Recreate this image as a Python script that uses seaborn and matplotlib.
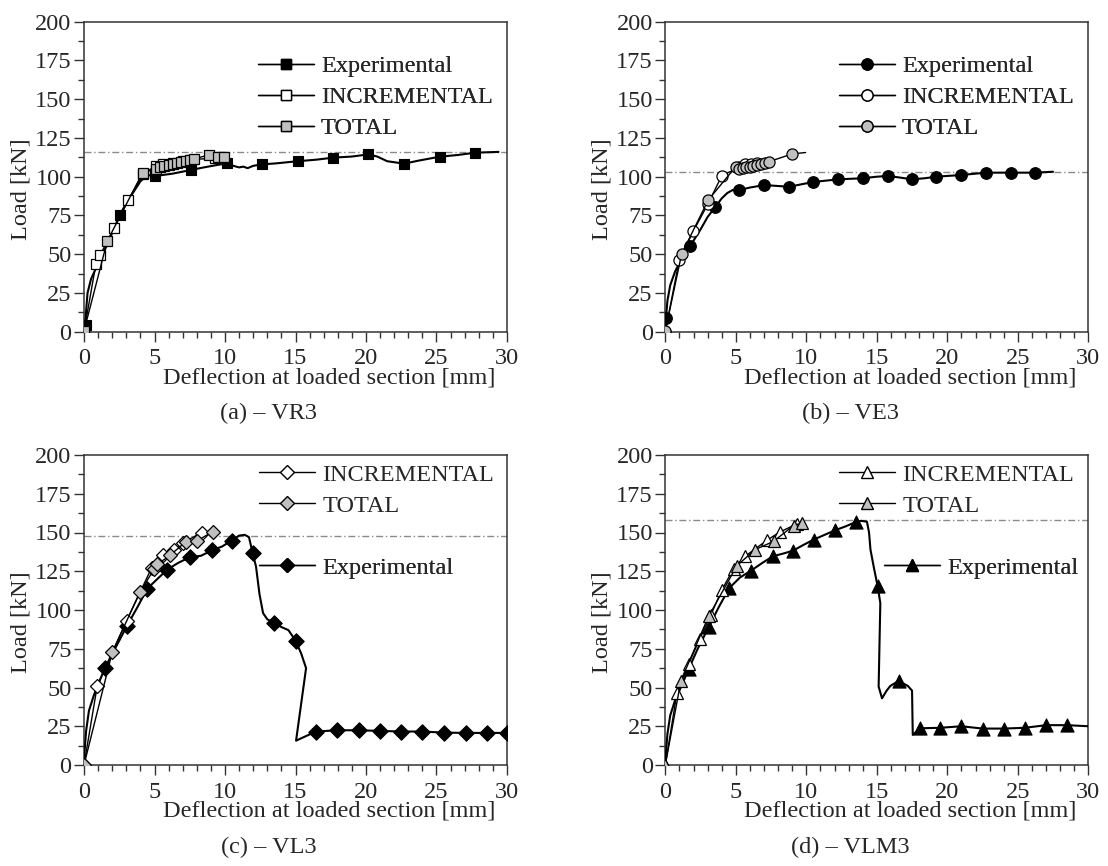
import numpy as np
import matplotlib
matplotlib.use("Agg")
import matplotlib.pyplot as plt
import seaborn as sns
from matplotlib.lines import Line2D
from matplotlib.ticker import MultipleLocator

# ---------------- data ----------------
# (a) VR3
A_EXP_X = [0, 0.05, 0.12, 0.25, 0.5, 0.8, 1.2, 1.7, 2.1, 2.55, 3.0, 3.5, 4.0, 4.5, 5.05, 5.5, 6.3,
           7.57, 8.5, 9.4, 10.12, 10.6, 11.0, 11.3, 11.6, 12.0, 12.62, 13.5, 15.17, 16.5, 17.67,
           19.0, 20.17, 20.8, 21.5, 22.7, 23.8, 25.24, 26.5, 27.76, 29.4]
A_EXP_Y = [0, 4, 10, 25, 34, 40, 48, 57, 66, 75.5, 83, 90, 97, 101, 100.5, 101, 102,
           104.3, 106, 107.5, 108.6, 107, 106, 106.5, 105.5, 107, 108, 108.5, 110, 111, 112.3,
           113, 114.4, 113, 110, 108.4, 110.5, 112.9, 114, 115.5, 116]
A_EXP_MX = [0.12, 2.55, 5.05, 7.57, 10.12, 12.62, 15.17, 17.67, 20.17, 22.7, 25.24, 27.76]
A_EXP_MY = [4.3, 75.5, 100.5, 104.3, 108.6, 108, 110.1, 112.3, 114.4, 108.4, 112.9, 115.5]
A_INC_X = [0, 0.85, 1.15, 2.15, 3.15, 4.2, 5.1, 5.6, 6.3, 7.0, 7.6, 9.3, 9.7]
A_INC_Y = [0, 44, 49.5, 67, 85, 102, 107, 108, 109, 110, 111, 112, 112.5]
A_TOT_X = [0, 1.65, 4.15, 5.1, 5.4, 5.7, 6.0, 6.3, 6.6, 6.9, 7.2, 7.5, 7.8, 8.85, 9.5, 9.9]
A_TOT_Y = [0.5, 58.5, 102.5, 105, 106, 107, 107.5, 108, 109, 109.5, 110, 110.5, 111.5, 114, 112.5, 113]
A_PEAK = 116

# (b) VE3
B_EXP_X = [0, 0.05, 0.15, 0.35, 0.7, 1.1, 1.76, 2.5, 3.0, 3.55, 4.0, 4.4, 4.8, 5.25, 6.0, 7.02,
           8.0, 8.77, 9.6, 10.5, 12.27, 14.0, 15.0, 15.76, 16.6, 17.5, 18.4, 19.2, 21.0, 22.76,
           24.5, 26.2, 27.5]
B_EXP_Y = [0, 8.7, 20, 30, 39, 46, 55.2, 66, 74, 80.5, 86, 89.5, 91.5, 91.4, 93, 94.6,
           94, 93.5, 95, 96.6, 98.3, 99, 100, 100.5, 99.5, 98.3, 99, 100, 101.1, 102.6,
           102.6, 102.6, 103.2]
B_EXP_MX = [0.05, 1.76, 3.55, 5.25, 7.02, 8.77, 10.5, 12.27, 14.0, 15.76, 17.5, 19.2, 21.0,
            22.76, 24.5, 26.2]
B_EXP_MY = [8.7, 55.2, 80.5, 91.4, 94.6, 93.5, 96.6, 98.3, 99, 100.5, 98.3, 100, 101.1,
            102.6, 102.6, 102.6]
B_INC_X = [0, 0.99, 1.98, 3.04, 4.0, 5.2, 5.65, 6.1, 6.5]
B_INC_Y = [0, 46.4, 64.7, 82.7, 100.5, 106, 108.5, 108.5, 109]
B_TOT_X = [0, 1.16, 3.04, 5.0, 5.25, 5.5, 5.75, 6.0, 6.25, 6.5, 6.8, 7.1, 7.35, 9.0, 9.95]
B_TOT_Y = [0.5, 50.2, 84.9, 106.5, 105, 105.5, 106, 106.5, 107, 107.5, 108, 109, 109.7, 114.7, 115.6]
B_PEAK = 103

# (c) VL3
C_EXP_X = [0, 0.05, 0.15, 0.35, 0.7, 1.0, 1.49, 2.2, 3.03, 3.8, 4.49, 5.2, 5.91, 6.7, 7.52,
           8.3, 9.06, 9.8, 10.47, 11.0, 11.4, 11.7, 11.96, 12.2, 12.45, 12.7, 13.0, 13.48, 14.0,
           14.5, 15.0, 15.4, 15.75, 15.04, 16.45, 17.97, 19.5, 21.0, 22.5, 24.0, 25.5, 27.1,
           28.6, 30.0]
C_EXP_Y = [0, 10, 22, 35, 45, 52, 62.6, 75, 89.5, 102, 113.8, 120, 126.1, 130.5, 134.1,
           135, 138.4, 141, 144.8, 148, 148.5, 147, 136.8, 128, 110, 98, 94, 91.6, 89,
           87, 80.3, 72, 62.5, 15.7, 21.6, 22.4, 22.4, 22, 21.6, 21.6, 20.9, 20.7,
           20.7, 20.7]
C_EXP_MX = [1.49, 3.03, 4.49, 5.91, 7.52, 9.06, 10.47, 11.96, 13.48, 15.0, 16.45, 17.97,
            19.5, 21.0, 22.5, 24.0, 25.5, 27.1, 28.6, 30.0]
C_EXP_MY = [62.6, 89.5, 113.8, 126.1, 134.1, 138.4, 144.8, 136.8, 91.6, 80.3, 21.6, 22.4,
            22.4, 22, 21.6, 21.6, 20.9, 20.7, 20.7, 20.7]
C_INC_X = [0, 0.94, 3.03, 4.8, 5.63, 6.4, 7.04, 8.35]
C_INC_Y = [0, 51.1, 93.2, 127.3, 135.3, 138.5, 143.5, 150]
C_TOT_X = [0, 2.0, 3.97, 4.96, 5.2, 6.1, 7.23, 7.99, 9.12]
C_TOT_Y = [0, 72.7, 111.6, 126.2, 129.4, 135.3, 144.1, 144.5, 150.5]
C_PEAK = 148

# (d) VLM3
D_EXP_X = [0, 0.05, 0.15, 0.35, 0.7, 1.1, 1.65, 2.3, 3.07, 3.8, 4.54, 5.3, 6.08, 6.9, 7.64,
           8.4, 9.06, 9.8, 10.52, 11.3, 12.06, 12.8, 13.55, 13.9, 14.3, 14.45, 14.55, 14.8,
           15.06, 15.25, 15.13, 15.37, 15.7, 15.96, 16.55, 17.2, 17.5, 17.55, 18.09, 19.5,
           21.0, 22.5, 24.0, 25.5, 27.0, 28.5, 30.0]
D_EXP_Y = [0, 8, 20, 32, 42, 50, 61.8, 75, 88.8, 102, 114.2, 121, 125.4, 130.5, 134.7,
           136.5, 138.3, 142, 145.4, 148.5, 151.5, 154, 156.9, 157.5, 157, 150, 139, 127,
           115.3, 104.5, 50.6, 43, 48, 51, 54.3, 51, 48, 19.4, 23.7, 24,
           25, 23.5, 23.5, 24, 25.7, 25.7, 25]
D_EXP_MX = [1.65, 3.07, 4.54, 6.08, 7.64, 9.06, 10.52, 12.06, 13.55, 15.06, 16.55, 18.09,
            19.5, 21.0, 22.5, 24.0, 25.5, 27.0, 28.5]
D_EXP_MY = [61.8, 88.8, 114.2, 125.4, 134.7, 138.3, 145.4, 151.5, 156.9, 115.3, 54.3, 23.7,
            24, 25, 23.5, 23.5, 24, 25.7, 25.7]
D_INC_X = [0, 0.83, 1.65, 2.43, 3.24, 4.02, 4.84, 5.67, 7.21, 8.1, 9.34]
D_INC_Y = [0, 46.7, 65, 81.2, 97, 113.1, 126.7, 134.7, 145, 150.2, 155.6]
D_TOT_X = [0, 1.11, 3.07, 5.08, 6.38, 7.68, 9.1, 9.7]
D_TOT_Y = [0, 54.5, 95.9, 128.6, 139, 144.3, 154.5, 156.2]
D_PEAK = 158

CAPTIONS = ["(a) \u2013 VR3", "(b) \u2013 VE3", "(c) \u2013 VL3", "(d) \u2013 VLM3"]
XLABEL = "Deflection at loaded section [mm]"
YLABEL = "Load [kN]"

# ---------------- styling ----------------
sns.set_style("ticks")
plt.rcParams["font.family"] = ["Liberation Serif", "DejaVu Serif"]
FS = 17.5
GRAY = "#c0c0c0"

PANELS = [
    dict(exp=(A_EXP_X, A_EXP_Y), expm=(A_EXP_MX, A_EXP_MY), inc=(A_INC_X, A_INC_Y),
         tot=(A_TOT_X, A_TOT_Y), peak=A_PEAK, marker="s", ms=7.5, tail=False,
         pos=(84, 21.7), leg=[(0.411, 0.892, ["exp", "inc", "tot"])]),
    dict(exp=(B_EXP_X, B_EXP_Y), expm=(B_EXP_MX, B_EXP_MY), inc=(B_INC_X, B_INC_Y),
         tot=(B_TOT_X, B_TOT_Y), peak=B_PEAK, marker="o", ms=8, tail=True,
         pos=(665.3, 21.7), leg=[(0.410, 0.892, ["exp", "inc", "tot"])]),
    dict(exp=(C_EXP_X, C_EXP_Y), expm=(C_EXP_MX, C_EXP_MY), inc=(C_INC_X, C_INC_Y),
         tot=(C_TOT_X, C_TOT_Y), peak=C_PEAK, marker="D", ms=7.5, tail=False,
         pos=(84, 455), leg=[(0.414, 0.972, ["inc", "tot"]), (0.414, 0.672, ["exp"])]),
    dict(exp=(D_EXP_X, D_EXP_Y), expm=(D_EXP_MX, D_EXP_MY), inc=(D_INC_X, D_INC_Y),
         tot=(D_TOT_X, D_TOT_Y), peak=D_PEAK, marker="^", ms=9, tail=False,
         pos=(665.3, 455), leg=[(0.411, 0.972, ["inc", "tot"]), (0.518, 0.672, ["exp"])]),
]

W, H = 1108, 866
AX_W, AX_H = 423, 310

fig = plt.figure(figsize=(W / 100, H / 100), dpi=100)

for p, cap in zip(PANELS, CAPTIONS):
    left, top = p["pos"]
    ax = fig.add_axes([left / W, 1 - (top + AX_H) / H, AX_W / W, AX_H / H])
    m, ms = p["marker"], p["ms"]

    ax.axhline(p["peak"], color="#8a8a8a", lw=1.0, linestyle=(0, (5, 2, 1, 2)), zorder=1)

    # experimental curve + markers
    sns.lineplot(x=p["exp"][0], y=p["exp"][1], sort=False, estimator=None,
                 color="k", lw=1.5, ax=ax, zorder=3)
    sns.scatterplot(x=p["expm"][0], y=p["expm"][1], marker=m, s=(ms * 1.05) ** 2,
                    color="k", edgecolor="k", linewidth=0.8, ax=ax, zorder=4)

    # numerical models
    sns.lineplot(x=p["inc"][0], y=p["inc"][1], sort=False, estimator=None,
                 color="k", lw=1.0, marker=m, markersize=ms, markerfacecolor="white",
                 markeredgecolor="k", markeredgewidth=0.9, ax=ax, zorder=5)
    tot_kw = dict(markevery=slice(0, len(p["tot"][0]) - 1)) if p["tail"] else {}
    sns.lineplot(x=p["tot"][0], y=p["tot"][1], sort=False, estimator=None,
                 color="k", lw=1.0, marker=m, markersize=ms, markerfacecolor=GRAY,
                 markeredgecolor="k", markeredgewidth=0.9, ax=ax, zorder=6, **tot_kw)

    ax.set_xlim(0, 30)
    ax.set_ylim(0, 200)
    ax.xaxis.set_major_locator(MultipleLocator(5))
    ax.xaxis.set_minor_locator(MultipleLocator(1))
    ax.yaxis.set_major_locator(MultipleLocator(25))
    ax.yaxis.set_minor_locator(MultipleLocator(12.5))
    ax.tick_params(which="major", direction="out", length=7, width=1, labelsize=FS,
                   pad=2, color="#333333", top=False, right=False)
    ax.tick_params(axis="x", which="major", pad=5)
    ax.tick_params(which="minor", direction="out", length=4, width=1, color="#333333",
                   top=False, right=False)
    for s in ax.spines.values():
        s.set_visible(True)
        s.set_color("#333333")
        s.set_linewidth(1.1)

    ax.set_xlabel(XLABEL, fontsize=FS)
    ax.xaxis.set_label_coords(0.58, -0.115)
    ax.set_ylabel(YLABEL, fontsize=FS)
    ax.yaxis.set_label_coords(-0.125, 0.46)

    handles = {
        "exp": (Line2D([], [], color="k", lw=1, marker=m, markersize=ms, markerfacecolor="k",
                       markeredgecolor="k"), "Experimental"),
        "inc": (Line2D([], [], color="k", lw=1, marker=m, markersize=ms, markerfacecolor="white",
                       markeredgecolor="k"), "INCREMENTAL"),
        "tot": (Line2D([], [], color="k", lw=1, marker=m, markersize=ms, markerfacecolor=GRAY,
                       markeredgecolor="k"), "TOTAL"),
    }
    for lx, ly, keys in p["leg"]:
        leg = ax.legend([handles[k][0] for k in keys], [handles[k][1] for k in keys],
                        loc="upper left", bbox_to_anchor=(lx, ly), frameon=False,
                        fontsize=FS, handlelength=2.3, handletextpad=0.3,
                        labelspacing=0.37, borderpad=0, borderaxespad=0)
        ax.add_artist(leg)

    cx = (left + 184.7) / W
    cy = 1 - (top + AX_H + 82) / H
    fig.text(cx, cy, cap, ha="center", va="center", fontsize=FS)

fig.savefig("out.png", dpi=100)
